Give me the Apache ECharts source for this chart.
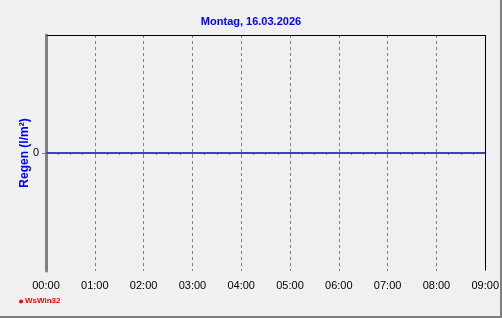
<!DOCTYPE html>
<html><head><meta charset="utf-8">
<script src="https://cdn.jsdelivr.net/npm/echarts@6/dist/echarts.min.js"></script>
<style>html,body{margin:0;padding:0;background:#f0f0f0}#c{width:502px;height:318px}</style>
</head><body><div id="c"></div>
<script>
var titleText = 'Montag, 16.03.2026';
var yName = 'Regen (l/m\u00b2)';
var hours = [0, 1, 2, 3, 4, 5, 6, 7, 8, 9];
var rain = [0, 0, 0, 0, 0, 0, 0, 0, 0, 0];
var xTickLabels = ['00:00','01:00','02:00','03:00','04:00','05:00','06:00','07:00','08:00','09:00'];
var yTickValues = [0];

var chart = echarts.init(document.getElementById('c'), null, {renderer: 'canvas'});
chart.setOption({
  backgroundColor: '#f0f0f0',
  animation: false,
  title: {
    text: titleText, left: 'center', top: 11,
    textStyle: {color: '#0000ff', fontSize: 11, fontWeight: 'bold', fontFamily: 'Liberation Sans'}
  },
  grid: {left: 46, right: 16, top: 35, bottom: 47, show: false},
  xAxis: {
    type: 'value', min: 0, max: 9, interval: 1,
    axisLine: {show: true, lineStyle: {color: '#808080', width: 2}},
    axisTick: {show: true, length: 4, lineStyle: {color: '#808080', width: 1}},
    minorTick: {show: true, splitNumber: 4, length: 2, lineStyle: {color: '#808080', width: 1}},
    splitLine: {show: true, lineStyle: {color: '#808080', type: [3, 3], width: 1}},
    axisLabel: {
      color: '#000', fontSize: 11, fontFamily: 'Liberation Sans', margin: 9,
      formatter: function (v) { return xTickLabels[hours.indexOf(v)] || ''; }
    }
  },
  yAxis: {
    type: 'value', min: -1, max: 1, interval: 1,
    name: yName, nameLocation: 'middle', nameGap: 21, nameRotate: 90, nameMoveOverlap: false,
    nameTextStyle: {color: '#0000ff', fontSize: 12, fontWeight: 'bold', fontFamily: 'Liberation Sans', verticalAlign: 'middle'},
    axisLine: {show: true, lineStyle: {color: '#808080', width: 3}},
    axisTick: {show: true, length: 4, customValues: yTickValues, lineStyle: {color: '#808080'}},
    axisLabel: {color: '#000', fontSize: 11, fontFamily: 'Liberation Sans', margin: 7, customValues: yTickValues},
    splitLine: {show: false}
  },
  series: [{
    type: 'line', symbol: 'none',
    data: hours.map(function (h, i) { return [h, rain[i]]; }),
    lineStyle: {color: '#0000ff', width: 1}
  }],
  graphic: [
    {type: 'line', shape: {x1: 47, y1: 35.5, x2: 486, y2: 35.5}, style: {stroke: '#000', lineWidth: 1}, z: 100},
    {type: 'line', shape: {x1: 485.5, y1: 35, x2: 485.5, y2: 270}, style: {stroke: '#000', lineWidth: 1}, z: 100},
    {type: 'circle', shape: {cx: 21, cy: 301.5, r: 2}, style: {fill: '#ff0000'}},
    {type: 'text', left: 25, top: 297, style: {text: 'WsWin32', fill: '#ff0000', font: 'bold 8px Liberation Sans', letterSpacing: 0.7}},
    {type: 'rect', shape: {x: 0, y: 316, width: 502, height: 2}, style: {fill: '#808080'}},
    {type: 'rect', shape: {x: 500, y: 0, width: 2, height: 318}, style: {fill: '#808080'}}
  ]
});
</script></body></html>
